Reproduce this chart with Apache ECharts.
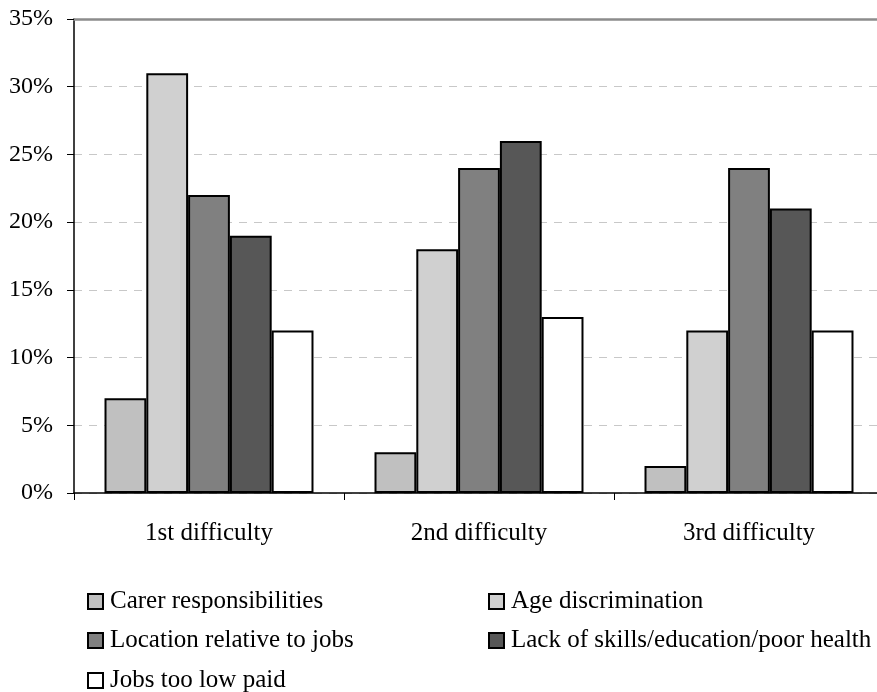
<!DOCTYPE html>
<html>
<head>
<meta charset="utf-8">
<script src="https://cdn.jsdelivr.net/npm/echarts@6/dist/echarts.min.js"></script>
<style>html,body{margin:0;padding:0;background:#fff;overflow:hidden;width:877px;height:692px}#c{width:884px;height:692px}</style>
</head>
<body>
<div id="c"></div>
<script>
const categories = ['1st difficulty', '2nd difficulty', '3rd difficulty'];
const seriesNames = ['Carer responsibilities', 'Age discrimination', 'Location relative to jobs', 'Lack of skills/education/poor health', 'Jobs too low paid'];
const carerValues = [7, 3, 2];
const ageValues = [31, 18, 12];
const locationValues = [22, 24, 24];
const lackSkillsValues = [19, 26, 21];
const lowPaidValues = [12, 13, 12];
const yTicks = [0, 5, 10, 15, 20, 25, 30, 35];

const values = [carerValues, ageValues, locationValues, lackSkillsValues, lowPaidValues];
const colors = ['#c0c0c0', '#d0d0d0', '#808080', '#575757', '#ffffff'];
const font = 'Liberation Serif, Times New Roman, serif';
// legend placement: [left, itemCenterY]
const legendPos = [[87, 602], [488, 602], [87, 641], [488, 641], [87, 681]];

const chart = echarts.init(document.getElementById('c'), null, {renderer: 'canvas'});
chart.setOption({
  animation: false,
  backgroundColor: '#fff',
  grid: {left: 74, top: 19, right: 0, bottom: 199},
  xAxis: [{
    type: 'category', data: categories,
    axisLine: {lineStyle: {color: '#000', width: 1.5}},
    axisTick: {show: true, length: 7, lineStyle: {color: '#000', width: 1}},
    axisLabel: {color: '#000', fontFamily: font, fontSize: 25, margin: 28}
  }, {
    type: 'category', data: categories, position: 'top',
    axisLine: {show: true, lineStyle: {color: '#8c8c8c', width: 2.5}},
    axisTick: {show: false}, axisLabel: {show: false}
  }],
  yAxis: {
    type: 'value', min: yTicks[0], max: yTicks[yTicks.length - 1], interval: 5,
    axisLine: {show: true, lineStyle: {color: '#000', width: 1.5}},
    axisTick: {show: true, length: 7, lineStyle: {color: '#000', width: 1}},
    axisLabel: {color: '#000', fontFamily: font, fontSize: 24, margin: 21, formatter: v => v + '%'},
    splitLine: {show: true, lineStyle: {color: '#c8c8c8', type: [8, 7], width: 1}}
  },
  legend: seriesNames.map((n, i) => ({
    left: legendPos[i][0], top: legendPos[i][1] - 13, padding: 0,
    icon: 'rect', itemWidth: 15, itemHeight: 15, itemGap: 0,
    data: [n],
    textStyle: {color: '#000', fontFamily: font, fontSize: 25, padding: [0, 0, 0, 2]}
  })),
  series: seriesNames.map((n, i) => ({
    name: n, type: 'bar', data: values[i],
    barGap: '0%', barCategoryGap: '22.6%',
    itemStyle: {color: colors[i], borderColor: '#000', borderWidth: 2},
    emphasis: {disabled: true}
  }))
});
</script>
</body>
</html>
